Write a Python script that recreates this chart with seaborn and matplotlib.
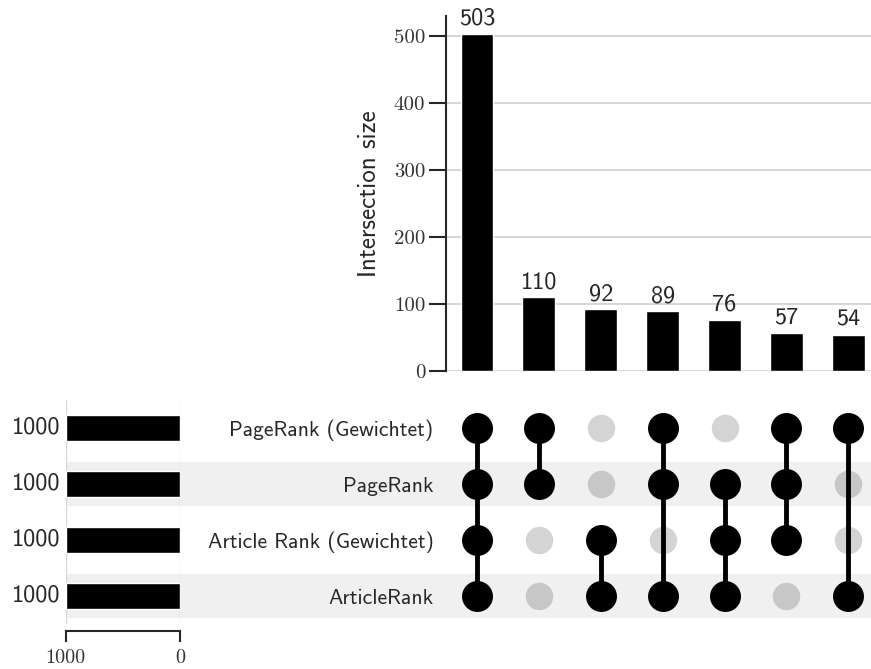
import numpy as np
import pandas as pd
import matplotlib
matplotlib.use('Agg')
import matplotlib.pyplot as plt
import matplotlib.transforms as mtransforms
from matplotlib.patches import Rectangle
import seaborn as sns

# Daten
set_names = ['PageRank (Gewichtet)', 'PageRank', 'Article Rank (Gewichtet)', 'ArticleRank']
set_totals = [1000, 1000, 1000, 1000]
intersection_sizes = [503, 110, 92, 89, 76, 57, 54]
memberships = [
    ['PageRank (Gewichtet)', 'PageRank', 'Article Rank (Gewichtet)', 'ArticleRank'],
    ['PageRank (Gewichtet)', 'PageRank'],
    ['Article Rank (Gewichtet)', 'ArticleRank'],
    ['PageRank (Gewichtet)', 'PageRank', 'ArticleRank'],
    ['PageRank', 'Article Rank (Gewichtet)', 'ArticleRank'],
    ['PageRank (Gewichtet)', 'PageRank', 'Article Rank (Gewichtet)'],
    ['PageRank (Gewichtet)', 'ArticleRank'],
]
total_ticks = [1000, 0]
size_ticks = [0, 100, 200, 300, 400, 500]

SANS = 'cmss10'
SERIF = 'cmr10'
TXT = '#262626'

sns.set_style('white')
plt.rcParams['axes.formatter.use_mathtext'] = True

W, H = 871, 669
fig = plt.figure(figsize=(W / 100, H / 100), dpi=100)


def px_axes(left, top, right, bottom):
    return fig.add_axes([left / W, 1 - bottom / H, (right - left) / W, (bottom - top) / H])


step = 61.9
ax_bar = px_axes(446, 16, 446 + 7 * step, 371)
ax_mat = px_axes(446, 400, 446 + 7 * step, 624)
ax_tot = px_axes(65.7, 400, 180.3, 624)
for ax in (ax_bar, ax_mat, ax_tot):
    ax.set_facecolor('none')

# Schattierte Zeilen
trans = mtransforms.blended_transform_factory(fig.transFigure, ax_mat.transData)
for i in range(len(set_names)):
    if i % 2 == 1:
        fig.add_artist(Rectangle((65.7 / W, i - 0.4), 1 - 65.7 / W, 0.8, transform=trans,
                                 facecolor='#f0f0f0', edgecolor='none', zorder=-5))

# Schnittmengen-Balken
df_int = pd.DataFrame({'id': [str(i) for i in range(len(intersection_sizes))],
                       'size': intersection_sizes})
sns.barplot(data=df_int, x='id', y='size', color='black', saturation=1, width=0.53,
            ax=ax_bar, zorder=3)
ax_bar.set_xlim(-0.5, 6.5)
ax_bar.set_ylim(0, 530)
ax_bar.set_xlabel('')
ax_bar.set_xticks([])
ax_bar.set_yticks(size_ticks, [str(t) for t in size_ticks], fontfamily=SERIF, fontsize=15, color='#333333')
ax_bar.set_ylabel('Intersection size', fontfamily=SANS, fontsize=18, color=TXT, labelpad=9)
ax_bar.grid(axis='y', color='#d0d0d0', linewidth=1.2, zorder=0)
ax_bar.set_axisbelow(True)
for s in ('top', 'right', 'bottom'):
    ax_bar.spines[s].set_visible(False)
ax_bar.spines['left'].set_color(TXT)
ax_bar.spines['left'].set_linewidth(1.5)
ax_bar.tick_params(axis='y', direction='out', length=12, width=1.5, color=TXT, pad=3, left=True)
for i, v in enumerate(intersection_sizes):
    ax_bar.annotate(str(v), (i, v), xytext=(0, 3), textcoords='offset points',
                    ha='center', va='bottom', fontsize=17.5, fontfamily=SANS, color=TXT)

# Matrix
rows = {name: i for i, name in enumerate(set_names)}
grid_df = pd.DataFrame([(c, r) for c in range(len(memberships)) for r in range(len(set_names))],
                       columns=['col', 'row'])
act_df = pd.DataFrame([(c, rows[n]) for c, m in enumerate(memberships) for n in m],
                      columns=['col', 'row'])
sns.scatterplot(data=grid_df, x='col', y='row', s=392, color='black', alpha=0.17,
                linewidth=0, ax=ax_mat, zorder=2)
for c, m in enumerate(memberships):
    r = [rows[n] for n in m]
    ax_mat.plot([c, c], [min(r), max(r)], color='black', linewidth=3.5, zorder=3,
                solid_capstyle='butt')
sns.scatterplot(data=act_df, x='col', y='row', s=497, color='black', linewidth=0,
                ax=ax_mat, zorder=4)
ax_mat.set_xlim(-0.5, 6.5)
ax_mat.set_ylim(len(set_names) - 0.5, -0.5)
ax_mat.set_xlabel('')
ax_mat.set_ylabel('')
ax_mat.set_xticks([])
ax_mat.set_yticks(range(len(set_names)), set_names, fontfamily=SANS, fontsize=15.5, color=TXT)
ax_mat.tick_params(axis='y', length=0, pad=9)
for s in ax_mat.spines.values():
    s.set_visible(False)

# Gesamtgrößen
df_tot = pd.DataFrame({'set': set_names, 'total': set_totals})
sns.barplot(data=df_tot, x='total', y='set', orient='h', color='black', saturation=1,
            width=0.47, ax=ax_tot, zorder=3)
for s in ('top', 'right', 'left'):
    ax_tot.spines[s].set_visible(False)
ax_tot.spines['bottom'].set_position(('outward', 5))
ax_tot.spines['bottom'].set_color(TXT)
ax_tot.spines['bottom'].set_linewidth(1.5)
ax_tot.set_xlim(1000, 0)
ax_tot.set_ylim(len(set_names) - 0.5, -0.5)
ax_tot.set_xlabel('')
ax_tot.set_ylabel('')
ax_tot.set_yticks([])
ax_tot.set_xticks(total_ticks, [str(t) for t in total_ticks], fontfamily=SERIF, fontsize=14.5, color='#333333')
ax_tot.grid(axis='x', color='#d8d8d8', linewidth=1.0, zorder=0)
ax_tot.set_axisbelow(True)
ax_tot.tick_params(axis='x', direction='out', length=8, width=1.5, color=TXT, pad=5, bottom=True)
for i, v in enumerate(set_totals):
    ax_tot.annotate(str(v), (v, i), xytext=(-3.5, 0), textcoords='offset points',
                    ha='right', va='center', fontsize=17.5, fontfamily=SANS, color=TXT)

fig.savefig('out.png', dpi=100)
